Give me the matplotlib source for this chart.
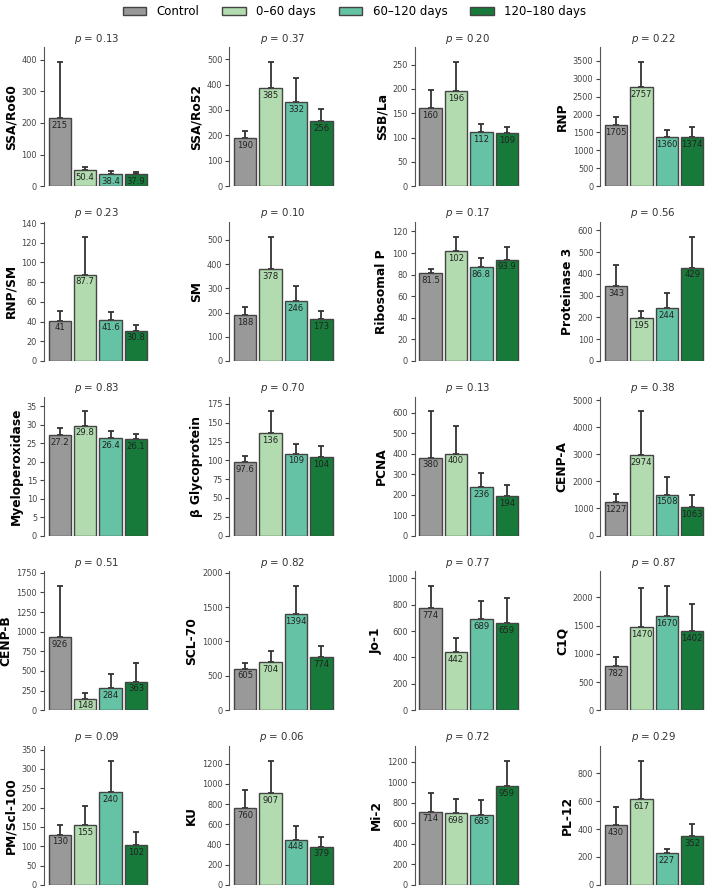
import matplotlib
matplotlib.use('Agg')
import matplotlib.pyplot as plt
from matplotlib.patches import Patch
from matplotlib.ticker import MaxNLocator
import numpy as np

# 组别和颜色
groups = ['Control', '0\u201360 days', '60\u2013120 days', '120\u2013180 days']
colors = ['#999999', '#b2dcb0', '#66c2a4', '#17793a']

# 抗体名称和 p 值
markers = ['SSA/Ro60', 'SSA/Ro52', 'SSB/La', 'RNP',
           'RNP/SM', 'SM', 'Ribosomal P', 'Proteinase 3',
           'Myeloperoxidase', '\u03b2 Glycoprotein', 'PCNA', 'CENP-A',
           'CENP-B', 'SCL-70', 'Jo-1', 'C1Q',
           'PM/Scl-100', 'KU', 'Mi-2', 'PL-12']
pvals = ['0.13', '0.37', '0.20', '0.22',
         '0.23', '0.10', '0.17', '0.56',
         '0.83', '0.70', '0.13', '0.38',
         '0.51', '0.82', '0.77', '0.87',
         '0.09', '0.06', '0.72', '0.29']

# 均值（每个抗体 4 组）
means = [
    [215, 50.4, 38.4, 37.9],
    [190, 385, 332, 256],
    [160, 196, 112, 109],
    [1705, 2757, 1360, 1374],
    [41, 87.7, 41.6, 30.8],
    [188, 378, 246, 173],
    [81.5, 102, 86.8, 93.9],
    [343, 195, 244, 429],
    [27.2, 29.8, 26.4, 26.1],
    [97.6, 136, 109, 104],
    [380, 400, 236, 194],
    [1227, 2974, 1508, 1063],
    [926, 148, 284, 363],
    [605, 704, 1394, 774],
    [774, 442, 689, 659],
    [782, 1470, 1670, 1402],
    [130, 155, 240, 102],
    [760, 907, 448, 379],
    [714, 698, 685, 959],
    [430, 617, 227, 352],
]

# 误差（上方）
errors = [
    [177, 9.6, 8.6, 6.1],
    [27, 103, 93, 46],
    [37, 59, 15, 13],
    [215, 703, 200, 266],
    [9.5, 38.3, 7.9, 5.7],
    [36, 135, 62, 35],
    [3.5, 13, 8.7, 12.1],
    [99, 35, 66, 141],
    [1.9, 3.8, 2.0, 1.3],
    [8.4, 29, 13, 15],
    [225, 135, 71, 53],
    [318, 1606, 662, 427],
    [654, 70, 171, 242],
    [80, 161, 411, 161],
    [166, 106, 139, 191],
    [168, 690, 530, 478],
    [26, 48, 81, 35],
    [178, 321, 130, 94],
    [184, 142, 145, 249],
    [130, 273, 29, 85],
]


def fmt(v):
    if v >= 100:
        return f'{v:.0f}'
    return f'{v:.3g}'


fig, axes = plt.subplots(5, 4, figsize=(7.09, 8.92), dpi=100)
fig.subplots_adjust(left=0.062, right=0.996, bottom=0.008, top=0.947,
                    wspace=0.75, hspace=0.257)

x = np.arange(len(groups))
for i, ax in enumerate(axes.flat):
    m = np.array(means[i])
    e = np.array(errors[i])
    ax.bar(x, m, width=0.88, color=colors, edgecolor='#444444', linewidth=1.0, zorder=2)
    ax.errorbar(x, m, yerr=[np.zeros_like(e), e], fmt='none', ecolor='#333333',
                elinewidth=1.3, capsize=2.5, capthick=1.3, zorder=1)
    for xi, v in zip(x, m):
        ax.annotate(fmt(v), (xi, v), xytext=(0, -2), textcoords='offset points',
                    ha='center', va='top', fontsize=6.1, color='#222222', zorder=3)
    ax.set_ylim(0, (m + e).max() * 1.12)
    ax.set_xlim(-0.62, 3.55)
    ax.yaxis.set_major_locator(MaxNLocator(nbins=8, steps=[1, 2, 2.5, 5, 10]))
    ax.set_xticks([])
    for s in ['top', 'right', 'bottom']:
        ax.spines[s].set_visible(False)
    ax.spines['left'].set_color('#555555')
    ax.tick_params(axis='y', labelsize=5.9, colors='#444444', length=3, width=0.8, pad=2)
    ax.set_ylabel(markers[i], fontsize=8.8, fontweight='bold', labelpad=3)
    ax.set_title(f'$p$ = {pvals[i]}', fontsize=7.4, color='#333333', pad=4)

handles = [Patch(facecolor=c, edgecolor='#444444', label=g) for c, g in zip(colors, groups)]
fig.legend(handles=handles, loc='upper center', bbox_to_anchor=(0.5, 1.006), ncol=4,
           frameon=False, fontsize=8.5, handlelength=2.0, handleheight=0.7,
           columnspacing=1.9, handletextpad=0.9)

fig.savefig('out.png', dpi=100)
